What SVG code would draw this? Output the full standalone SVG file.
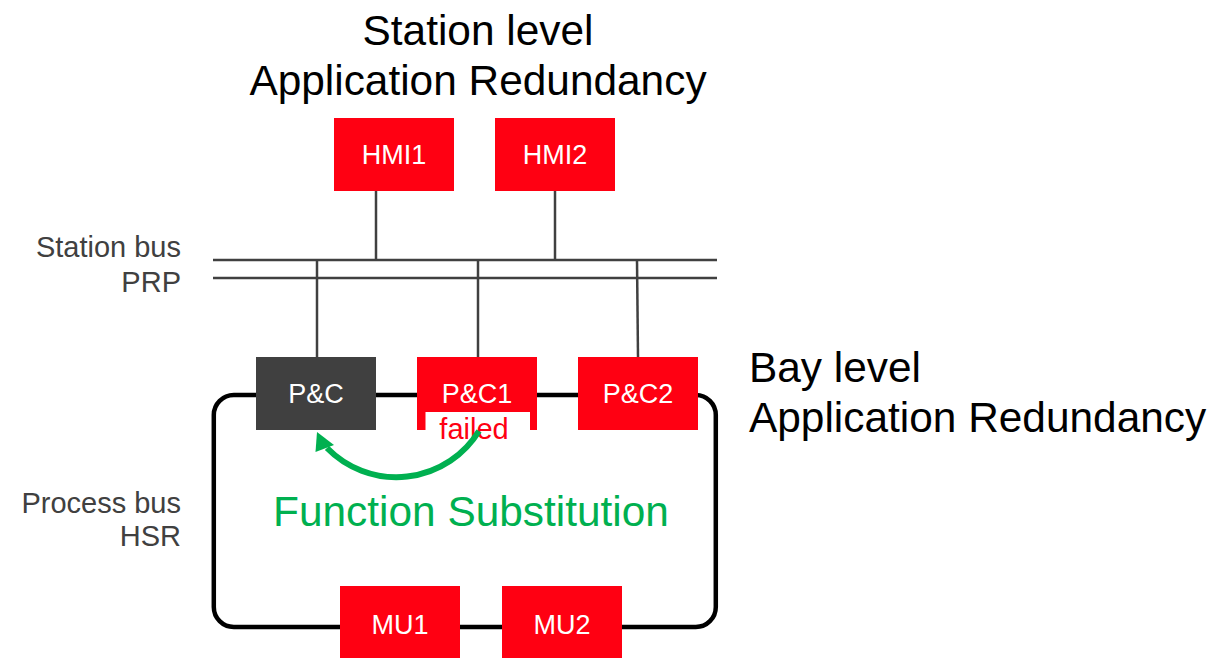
<svg xmlns="http://www.w3.org/2000/svg" width="1217" height="658" viewBox="0 0 1217 658">
  <style>
    text { font-family: "Liberation Sans", Arial, sans-serif; }
    .title { font-size: 42.4px; fill: #000; }
    .side { font-size: 29px; fill: #404040; text-anchor: end; }
    .box { fill: #FF0012; }
    .box.dark { fill: #404040; }
    .lbl { font-size: 27px; fill: #fff; text-anchor: middle; }
    .wire { stroke: #404040; stroke-width: 2.5; fill: none; }
    .ring { stroke: #000; stroke-width: 4.5; fill: none; }
  </style>

  <!-- headings -->
  <g id="station-heading">
    <text class="title" x="478" y="45" text-anchor="middle">Station level</text>
    <text class="title" x="478" y="95" text-anchor="middle">Application Redundancy</text>
  </g>
  <g id="bay-heading">
    <text class="title" x="749" y="382">Bay level</text>
    <text class="title" x="749" y="432">Application Redundancy</text>
  </g>

  <!-- bus labels -->
  <g id="station-bus-label">
    <text class="side" x="181" y="257">Station bus</text>
    <text class="side" x="181" y="292">PRP</text>
  </g>
  <g id="process-bus-label">
    <text class="side" x="181" y="513">Process bus</text>
    <text class="side" x="181" y="546">HSR</text>
  </g>

  <!-- connectors: PRP double bus, drops, HSR ring -->
  <g id="connectors">
    <line class="wire" x1="213" y1="260" x2="717" y2="260"/>
    <line class="wire" x1="213" y1="278" x2="717" y2="278"/>
    <line class="wire" x1="376" y1="190" x2="376" y2="260"/>
    <line class="wire" x1="555" y1="190" x2="555" y2="260"/>
    <line class="wire" x1="317" y1="260" x2="317" y2="357"/>
    <line class="wire" x1="478" y1="260" x2="478" y2="357"/>
    <line class="wire" x1="637" y1="260" x2="638" y2="357"/>
    <rect class="ring" x="213.8" y="395" width="502" height="232" rx="20" ry="20"/>
  </g>

  <!-- station level devices -->
  <g id="hmi1">
    <rect class="box" x="334" y="118" width="120" height="73"/>
    <text class="lbl" x="394" y="164">HMI1</text>
  </g>
  <g id="hmi2">
    <rect class="box" x="495" y="118" width="120" height="73"/>
    <text class="lbl" x="555" y="164">HMI2</text>
  </g>

  <!-- bay level devices -->
  <g id="pc">
    <rect class="box dark" x="256" y="357" width="120" height="73"/>
    <text class="lbl" x="316" y="403">P&amp;C</text>
  </g>
  <g id="pc1">
    <rect class="box" x="417" y="357" width="120" height="73"/>
    <text class="lbl" x="477" y="403">P&amp;C1</text>
    <rect x="425.5" y="412" width="104.5" height="30" fill="#fff"/>
    <text x="474" y="439" font-size="29" fill="#FF0012" text-anchor="middle">failed</text>
  </g>
  <g id="pc2">
    <rect class="box" x="578" y="357" width="120" height="73"/>
    <text class="lbl" x="638" y="403">P&amp;C2</text>
  </g>

  <!-- merging units -->
  <g id="mu1">
    <rect class="box" x="340" y="586" width="120" height="73"/>
    <text class="lbl" x="400" y="634">MU1</text>
  </g>
  <g id="mu2">
    <rect class="box" x="502" y="586" width="120" height="73"/>
    <text class="lbl" x="562" y="634">MU2</text>
  </g>

  <!-- substitution arrow -->
  <g id="function-substitution">
    <path d="M 479 431 A 97 97 0 0 1 327 448" fill="none" stroke="#00B050" stroke-width="6"/>
    <polygon points="317,432 315.5,452 334,445" fill="#00B050"/>
    <text x="471" y="526" font-size="42.4" fill="#00B050" text-anchor="middle">Function Substitution</text>
  </g>
</svg>
